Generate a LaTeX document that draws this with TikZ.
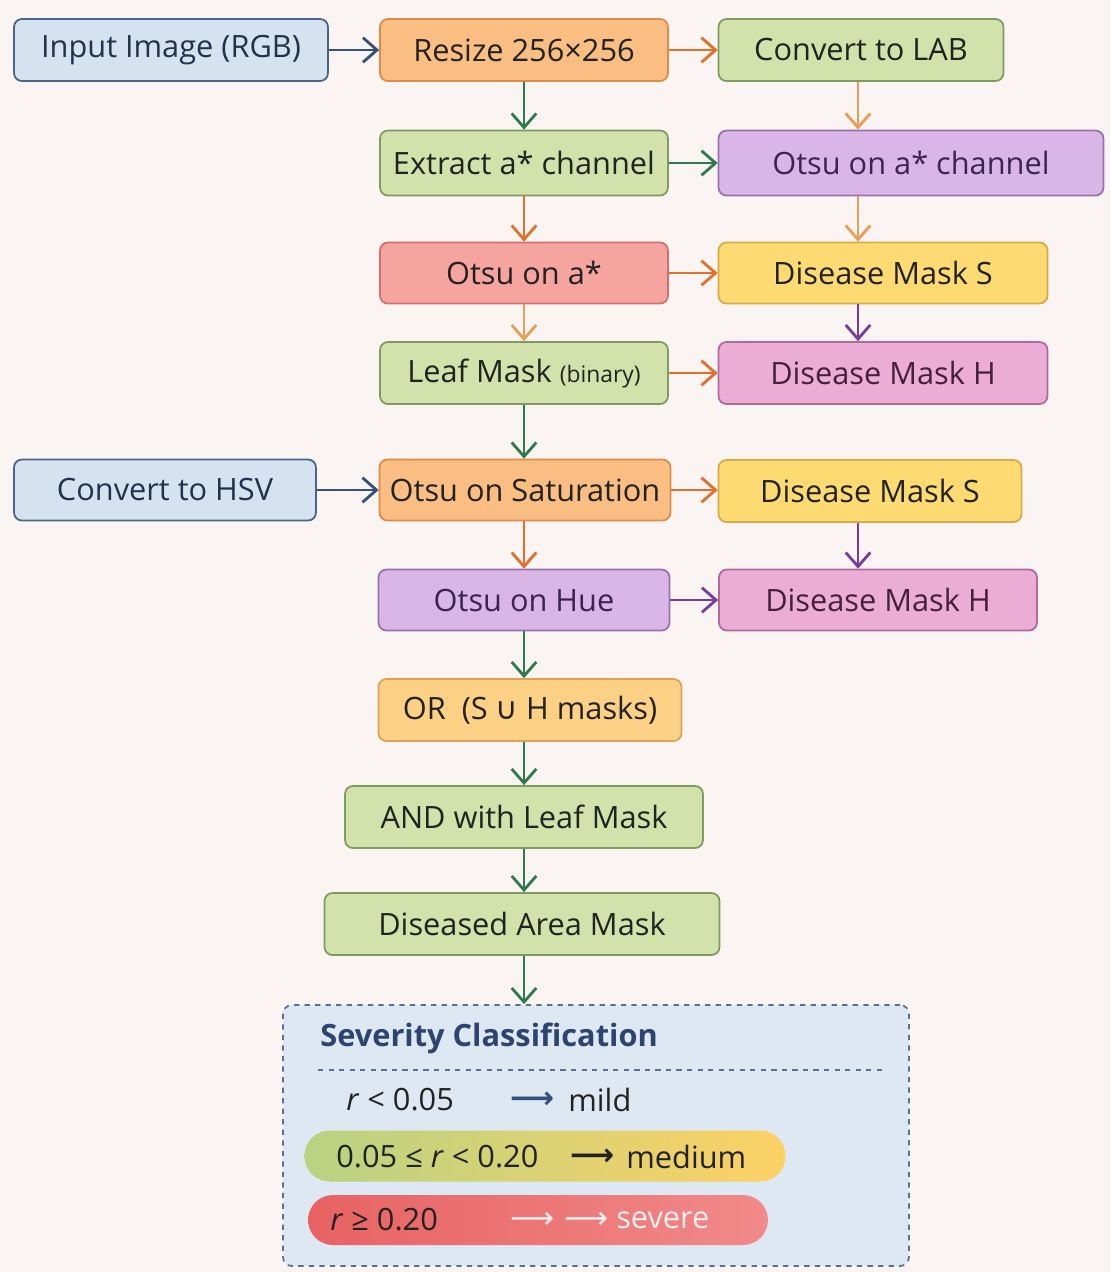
\documentclass[tikz,border=0pt]{standalone}
\usepackage{fontspec}
\setmainfont{Open Sans}
\newfontfamily\symfont{DejaVu Sans}
\usetikzlibrary{arrows.meta}

\definecolor{bgcol}{HTML}{FAF4F2}
\definecolor{txtdark}{HTML}{222222}
\definecolor{bluefill}{HTML}{D5E3F0}
\definecolor{blueline}{HTML}{4A6488}
\definecolor{bluetext}{HTML}{23324C}
\definecolor{orangefill}{HTML}{FBBE82}
\definecolor{orangeline}{HTML}{DC8C4A}
\definecolor{greenfill}{HTML}{D2E2AA}
\definecolor{greenline}{HTML}{7E9C62}
\definecolor{purplefill}{HTML}{D9B6E6}
\definecolor{purpleline}{HTML}{9872B0}
\definecolor{purpletext}{HTML}{3E2254}
\definecolor{redfill}{HTML}{F6A4A0}
\definecolor{redline}{HTML}{D46E6E}
\definecolor{yellowfill}{HTML}{FDDA72}
\definecolor{yellowline}{HTML}{D9AA48}
\definecolor{pinkfill}{HTML}{EBADD6}
\definecolor{pinkline}{HTML}{B06A9C}
\definecolor{pinktext}{HTML}{44203A}
\definecolor{ormfill}{HTML}{FDD185}
\definecolor{ormline}{HTML}{E0A252}
\definecolor{sevfill}{HTML}{DEE8F2}
\definecolor{sevline}{HTML}{5A7092}
\definecolor{sevtitle}{HTML}{2E4470}
\definecolor{medgreen}{HTML}{B9D282}
\definecolor{medyellow}{HTML}{FDD164}
\definecolor{sevred}{HTML}{E86262}
\definecolor{sevpink}{HTML}{F18A8A}
\definecolor{arblue}{HTML}{34507E}
\definecolor{arorange}{HTML}{E2702C}
\definecolor{arlight}{HTML}{E99E56}
\definecolor{argreen}{HTML}{2E7A4C}
\definecolor{arpurple}{HTML}{7A3A9E}

\begin{document}
\begin{tikzpicture}[x=0.02cm, y=-0.02cm, >={Straight Barb[length=8pt,width=14pt]},
    box/.style={draw, rounded corners=4.5pt, line width=1pt, minimum height=1.24cm,
        inner sep=2pt, text=txtdark, font=\fontsize{17.5}{20}\selectfont},
    bluebox/.style={box, fill=bluefill, draw=blueline, text=bluetext},
    orangebox/.style={box, fill=orangefill, draw=orangeline},
    greenbox/.style={box, fill=greenfill, draw=greenline},
    purplebox/.style={box, fill=purplefill, draw=purpleline, text=purpletext},
    redbox/.style={box, fill=redfill, draw=redline},
    yellowbox/.style={box, fill=yellowfill, draw=yellowline},
    pinkbox/.style={box, fill=pinkfill, draw=pinkline, text=pinktext},
    ormbox/.style={box, fill=ormfill, draw=ormline},
    flow/.style={->, line width=1.6pt},
    pill/.style={rounded corners=0.5cm, inner sep=0pt},
    rowtext/.style={anchor=west, inner sep=0pt, text=txtdark, font=\fontsize{17.5}{20}\selectfont},
]
    \fill[bgcol] (0,0) rectangle (1110,1272);
    \coordinate (mcol) at (524,0);
    \coordinate (rcol) at (858,0);

    % LAB branch
    \node[bluebox, minimum width=6.28cm] (input) at (171,50) {Input Image (RGB)};
    \node[orangebox, minimum width=5.76cm] (resize) at (524,50) {Resize 256×256};
    \node[greenbox, minimum width=5.7cm] (lab) at (861,50) {Convert to LAB};
    \node[greenbox, minimum width=5.76cm, minimum height=1.3cm] (extract) at (524,163) {Extract a* channel};
    \node[purplebox, minimum width=7.7cm, minimum height=1.3cm] (otsuch) at (911,163) {Otsu on a* channel};
    \node[redbox, minimum width=5.76cm, minimum height=1.22cm] (otsua) at (524,273) {Otsu on a*};
    \node[yellowbox, minimum width=6.58cm, minimum height=1.22cm] (maskSa) at (883,273) {Disease Mask S};
    \node[greenbox, minimum width=5.76cm] (leaf) at (524,373) {Leaf Mask {\fontsize{13}{15}\selectfont(binary)}};
    \node[pinkbox, minimum width=6.58cm] (maskHa) at (883,373) {Disease Mask H};

    % HSV branch
    \node[bluebox, minimum width=6.04cm, minimum height=1.22cm] (hsv) at (165,490) {Convert to HSV};
    \node[orangebox, minimum width=5.82cm, minimum height=1.22cm] (otsusat) at (525,490) {Otsu on Saturation};
    \node[yellowbox, minimum width=6.06cm] (maskSb) at (870,491) {Disease Mask S};
    \node[purplebox, minimum width=5.82cm, minimum height=1.22cm] (otsuhue) at (524,600) {Otsu on Hue};
    \node[pinkbox, minimum width=6.36cm, minimum height=1.22cm] (maskHb) at (878,600) {Disease Mask H};

    % combine
    \node[ormbox, minimum width=6.06cm] (ormask) at (530,710) {OR\ \ (S {\symfont ∪} H masks)};
    \node[greenbox, minimum width=7.16cm] (andmask) at (524,817) {AND with Leaf Mask};
    \node[greenbox, minimum width=7.9cm] (area) at (522,924) {Diseased Area Mask};

    % severity
    \node[draw=sevline, fill=sevfill, dashed, line width=1pt, rounded corners=5pt,
        minimum width=12.52cm, minimum height=5.22cm] (sev) at (596,1135.5) {};
    \node[anchor=west, inner sep=0pt, text=sevtitle, font=\fontsize{17.5}{20}\selectfont\bfseries]
        (sevhead) at (320,1038) {Severity Classification};
    \draw[sevline, dashed, line width=0.8pt] (318,1070) -- (883,1070);
    \node[pill, left color=medgreen, right color=medyellow, minimum width=9.62cm, minimum height=1.02cm] (medpill) at (545,1156) {};
    \node[pill, left color=sevred, right color=sevpink, minimum width=9.2cm, minimum height=1.0cm] (sevpill) at (538,1220) {};

    \node[rowtext] (mildif) at (346,1100) {\textit{r} < 0.05};
    \node[rowtext, text=arblue] (mildto) at (510,1100) {\symfont\bfseries ⟶};
    \node[rowtext] (mild) at (568,1100) {mild};
    \node[rowtext] (medif) at (336,1157) {0.05 ≤ \textit{r} < 0.20};
    \node[rowtext] (medto) at (570,1157) {\symfont\bfseries ⟶};
    \node[rowtext] (medium) at (626,1157) {medium};
    \node[rowtext] (sevif) at (330,1220) {\textit{r} ≥ 0.20};
    \node[rowtext, text=white!90!sevred] (severe) at (510,1220) {{\symfont ⟶ ⟶} severe};

    % arrows
    \draw[flow, arblue] (input) -- (resize);
    \draw[flow, arorange] (resize) -- (lab);
    \draw[flow, argreen] (resize) -- (extract);
    \draw[flow, arlight] (rcol |- lab.south) -- (rcol |- otsuch.north);
    \draw[flow, argreen] (extract) -- (otsuch);
    \draw[flow, arorange] (extract) -- (otsua);
    \draw[flow, arlight] (rcol |- otsuch.south) -- (rcol |- maskSa.north);
    \draw[flow, arorange] (otsua) -- (maskSa);
    \draw[flow, arlight] (otsua) -- (leaf);
    \draw[flow, arpurple] (rcol |- maskSa.south) -- (rcol |- maskHa.north);
    \draw[flow, arorange] (leaf) -- (maskHa);
    \draw[flow, argreen] (mcol |- leaf.south) -- (mcol |- otsusat.north);
    \draw[flow, arblue] (hsv) -- (otsusat);
    \draw[flow, arorange] (otsusat.east) -- (otsusat.east -| maskSb.west);
    \draw[flow, arorange] (mcol |- otsusat.south) -- (mcol |- otsuhue.north);
    \draw[flow, arpurple] (rcol |- maskSb.south) -- (rcol |- maskHb.north);
    \draw[flow, arpurple] (otsuhue) -- (maskHb);
    \draw[flow, argreen] (mcol |- otsuhue.south) -- (mcol |- ormask.north);
    \draw[flow, argreen] (mcol |- ormask.south) -- (mcol |- andmask.north);
    \draw[flow, argreen] (mcol |- andmask.south) -- (mcol |- area.north);
    \draw[flow, argreen] (mcol |- area.south) -- (mcol |- sev.north);
\end{tikzpicture}
\end{document}
